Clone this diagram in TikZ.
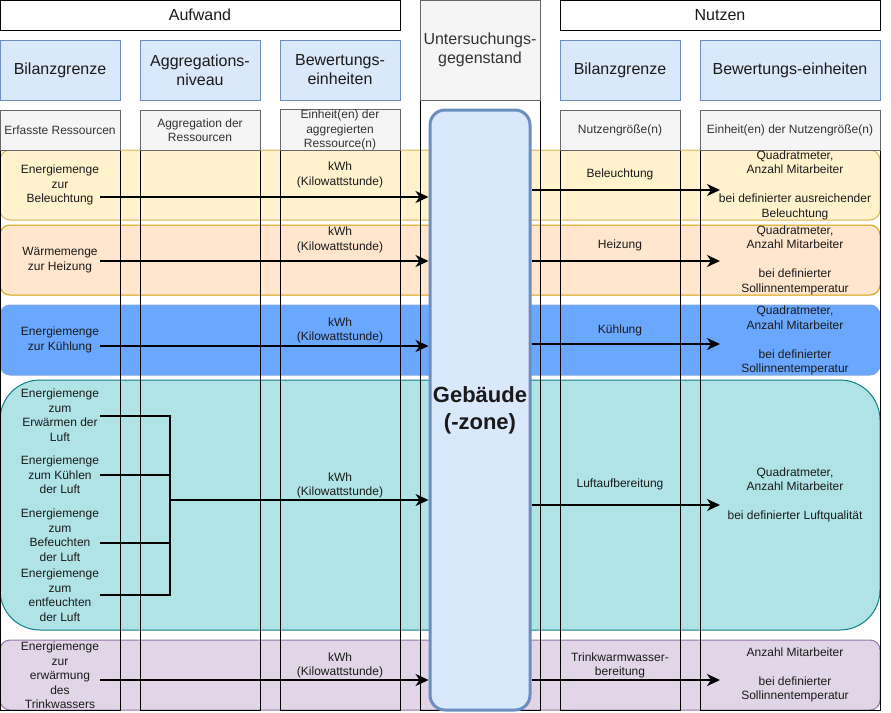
\documentclass[tikz,border=0pt]{standalone}
\usepackage{fontspec}
\setmainfont{Liberation Sans}
\usetikzlibrary{arrows.meta}

\definecolor{bluefill}{HTML}{DAE8FC}
\definecolor{blueedge}{HTML}{6C8EBF}
\definecolor{grayfill}{HTML}{F5F5F5}
\definecolor{grayedge}{HTML}{666666}
\definecolor{graytext}{HTML}{333333}
\definecolor{yelfill}{HTML}{FFF2CC}
\definecolor{yeledge}{HTML}{D6B656}
\definecolor{orafill}{HTML}{FFE6CC}
\definecolor{oraedge}{HTML}{D79B00}
\definecolor{coolfill}{HTML}{6AA8FF}
\definecolor{cooledge}{HTML}{7EA6E0}
\definecolor{tealfill}{HTML}{B0E3E6}
\definecolor{tealedge}{HTML}{0E8088}
\definecolor{purfill}{HTML}{E1D5E7}
\definecolor{puredge}{HTML}{9673A6}
\definecolor{ink}{HTML}{1A1A1A}

\begin{document}
\begin{tikzpicture}[x=1pt,y=-1pt,
  txt/.style={font=\fontsize{12}{14.5}\selectfont, align=center, inner sep=0pt, text=ink},
  big/.style={font=\fontsize{16}{19}\selectfont, align=center, text=ink},
  plainbox/.style={draw=black, fill=white, line width=1pt, inner sep=0pt, minimum height=30pt, big},
  bluebox/.style={draw=blueedge, fill=bluefill, line width=1pt, inner sep=0pt, minimum height=60pt, minimum width=120pt, big},
  graybox/.style={draw=grayedge, fill=grayfill, line width=1pt, inner sep=0pt, minimum height=40pt, minimum width=120pt, txt, text=graytext},
  band/.style={line width=1pt, inner sep=0pt, minimum width=880pt, minimum height=70pt, rounded corners=10pt},
  lane/.style={draw=black, line width=1pt},
  flow/.style={draw=black, line width=2pt, -{Stealth[length=13pt,width=12pt,inset=4pt]}},
  merge/.style={draw=black, line width=2pt},
]
\useasboundingbox (0,0) rectangle (891,712);

% coloured bands, one per use case
\node[band, draw=yeledge, fill=yelfill] (band1) at (440,185) {};
\node[band, draw=oraedge, fill=orafill] (band2) at (440,260) {};
\node[band, draw=cooledge, fill=coolfill] (band3) at (440,340) {};
\node[band, draw=tealedge, fill=tealfill, minimum height=250pt, rounded corners=40pt] (band4) at (440,505) {};
\node[band, draw=puredge, fill=purfill] (band5) at (440,675) {};

% column lanes
\draw[lane] (0,110) rectangle (120,710);
\draw[lane] (140,110) rectangle (260,710);
\draw[lane] (280,110) rectangle (400,710);
\draw[lane] (420,100) rectangle (540,710);
\draw[lane] (560,110) rectangle (680,710);
\draw[lane] (700,110) rectangle (880,710);

% top headers
\node[plainbox, minimum width=400pt] (aufwand) at (200,15) {Aufwand};
\node[plainbox, minimum width=320pt] (nutzen) at (720,15) {Nutzen};

\node[bluebox] (bil1) at (60,70) {Bilanzgrenze};
\node[bluebox] (agg) at (200,70) {Aggregations-\\niveau};
\node[bluebox] (bew1) at (340,70) {Bewertungs-\\einheiten};
\node[bluebox] (bil2) at (620,70) {Bilanzgrenze};
\node[bluebox, minimum width=180pt] (bew2) at (790,70) {Bewertungs-einheiten};

\node[draw=grayedge, fill=grayfill, line width=1pt, inner sep=0pt, minimum width=120pt, minimum height=100pt, big, text=graytext] (ug) at (480,50) {Untersuchungs-\\gegenstand};

\node[graybox] (g1) at (60,130) {Erfasste Ressourcen};
\node[graybox] (g2) at (200,130) {Aggregation der\\Ressourcen};
\node[graybox] (g3) at (340,130) {Einheit(en) der\\aggregierten\\Ressource(n)};
\node[graybox] (g4) at (620,130) {Nutzengröße(n)};
\node[graybox, minimum width=180pt] (g5) at (790,130) {Einheit(en) der Nutzengröße(n)};

% the building
\node[draw=blueedge, fill=bluefill, line width=3pt, rounded corners=15pt, minimum width=100pt, minimum height=600pt, inner sep=0pt,
      font=\fontsize{22}{27}\selectfont\bfseries, align=center, text=ink] (geb) at (480,410) {Gebäude\\(-zone)};

% resources
\node[txt] (l1) at (60,185) {Energiemenge\\zur\\Beleuchtung};
\node[txt] (l2) at (60,260) {Wärmemenge\\zur Heizung};
\node[txt] (l3) at (60,340) {Energiemenge\\zur Kühlung};
\node[txt] (l4a) at (60,415) {Energiemenge\\zum\\Erwärmen der\\Luft};
\node[txt] (l4b) at (60,475) {Energiemenge\\zum Kühlen\\der Luft};
\node[txt] (l4c) at (60,535) {Energiemenge\\zum\\Befeuchten\\der Luft};
\node[txt] (l4d) at (60,595) {Energiemenge\\zum\\entfeuchten\\der Luft};
\node[txt] (l5) at (60,675.5) {Energiemenge\\zur\\erwärmung\\des\\Trinkwassers};

% units of the resources
\node[txt] (k1) at (340,175) {kWh\\(Kilowattstunde)};
\node[txt] (k2) at (340,240) {kWh\\(Kilowattstunde)};
\node[txt] (k3) at (340,330.5) {kWh\\(Kilowattstunde)};
\node[txt] (k4) at (340,485.5) {kWh\\(Kilowattstunde)};
\node[txt] (k5) at (340,665.5) {kWh\\(Kilowattstunde)};

% benefits
\node[txt] (n1) at (620,174) {Beleuchtung};
\node[txt] (n2) at (620,245) {Heizung};
\node[txt] (n3) at (620,330) {Kühlung};
\node[txt] (n4) at (620,484) {Luftaufbereitung};
\node[txt] (n5) at (620,665.5) {Trinkwarmwasser-\\bereitung};

% units of the benefits
\node[txt] (r1) at (795,185) {Quadratmeter,\\Anzahl Mitarbeiter\\\mbox{}\\bei definierter ausreichender\\Beleuchtung};
\node[txt] (r2) at (795,260) {Quadratmeter,\\Anzahl Mitarbeiter\\\mbox{}\\bei definierter\\Sollinnentemperatur};
\node[txt] (r3) at (795,340.5) {Quadratmeter,\\Anzahl Mitarbeiter\\\mbox{}\\bei definierter\\Sollinnentemperatur};
\node[txt] (r4) at (795,495) {Quadratmeter,\\Anzahl Mitarbeiter\\\mbox{}\\bei definierter Luftqualität};
\node[txt] (r5) at (795,675) {Anzahl Mitarbeiter\\\mbox{}\\bei definierter\\Sollinnentemperatur};

% flows into the building
\coordinate (s1) at (100,197);
\coordinate (s2) at (100,261);
\coordinate (s3) at (100,346);
\coordinate (s5) at (100,680);
\draw[flow] (s1) -- (s1 -| geb.west);
\draw[flow] (s2) -- (s2 -| geb.west);
\draw[flow] (s3) -- (s3 -| geb.west);
\draw[flow] (s5) -- (s5 -| geb.west);

% air treatment: four resources joined into one flow
\coordinate (a1) at (100,416);
\coordinate (a2) at (100,475);
\coordinate (a3) at (100,543);
\coordinate (a4) at (100,595);
\coordinate (hub) at (170,500);
\draw[merge] (a1) -| (hub);
\draw[merge] (a4) -| (hub);
\draw[merge] (a2) -- (a2 -| hub);
\draw[merge] (a3) -- (a3 -| hub);
\draw[flow] (hub) -- (hub -| geb.west);

% flows out of the building
\coordinate (e1) at (720,190);
\coordinate (e2) at (720,261);
\coordinate (e3) at (720,344);
\coordinate (e4) at (720,505);
\coordinate (e5) at (720,680);
\draw[flow] (geb.east |- e1) -- (e1);
\draw[flow] (geb.east |- e2) -- (e2);
\draw[flow] (geb.east |- e3) -- (e3);
\draw[flow] (geb.east |- e4) -- (e4);
\draw[flow] (geb.east |- e5) -- (e5);
\end{tikzpicture}
\end{document}
